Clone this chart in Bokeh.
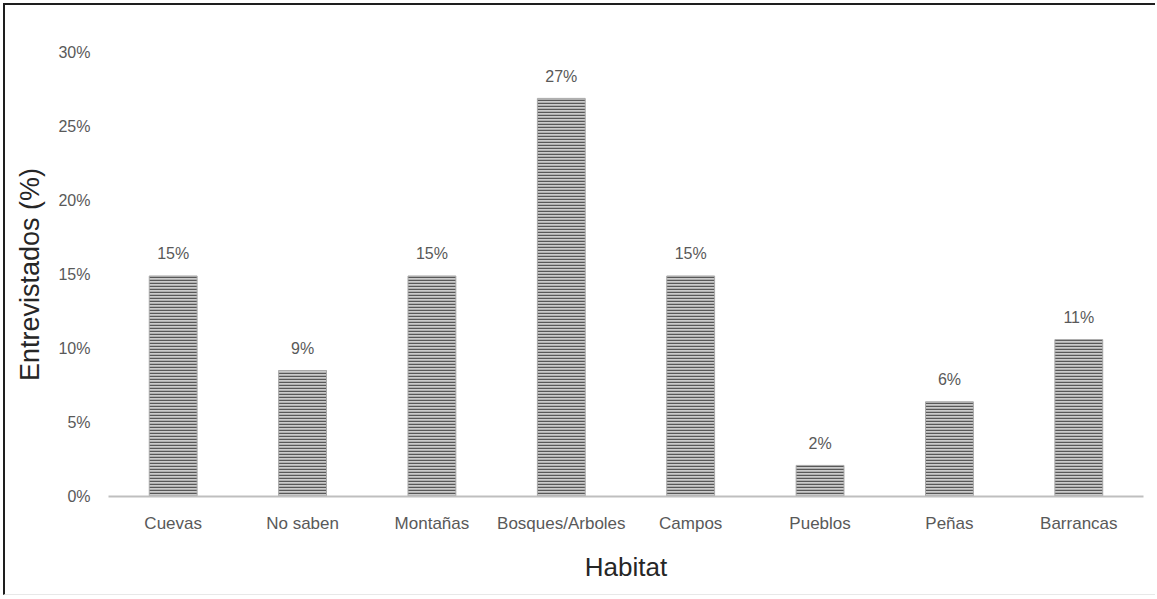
from bokeh.plotting import figure
from bokeh.models import FactorRange, Range1d, ColumnDataSource, CustomJSTickFormatter
from bokeh.core.properties import value
from bokeh.embed import file_html
from bokeh.resources import INLINE

# Habitat categories and share of interviewees (%)
habitats = ["Cuevas", "No saben", "Montañas", "Bosques/Arboles",
            "Campos", "Pueblos", "Peñas", "Barrancas"]
percent = [14.9, 8.51, 14.9, 26.9, 14.9, 2.1, 6.4, 10.6]
y_ticks = [0, 5, 10, 15, 20, 25, 30]

labels = [f"{round(v)}%" for v in percent]
src = ColumnDataSource(dict(habitat=habitats, pct=percent, label=labels))

FONT = "Liberation Sans"

p = figure(
    width=1152, height=592,
    x_range=FactorRange(*habitats, range_padding=0),
    y_range=Range1d(0, 30),
    output_backend="svg", toolbar_location=None,
    min_border_left=103, min_border_right=14,
    min_border_top=47, min_border_bottom=101,
    background_fill_color="white", border_fill_color="white",
)
p.outline_line_color = None
p.xgrid.grid_line_color = None
p.ygrid.grid_line_color = None

p.vbar(x="habitat", top="pct", width=0.37, source=src,
       fill_color="#cbcbcb", line_color="#a8a8a8", line_width=1,
       hatch_pattern="horizontal_line", hatch_scale=3,
       hatch_weight=1.5, hatch_color="#585858")

p.text(x="habitat", y="pct", text="label", source=src,
       text_font=value(FONT), text_font_size="16px", text_color="#595959",
       text_align="center", text_baseline="middle", y_offset=-22)

# y axis: percent ticks, no line
p.yaxis.ticker = y_ticks
p.yaxis.formatter = CustomJSTickFormatter(code="return tick + '%';")
p.yaxis.axis_line_color = None
p.yaxis.major_tick_line_color = None
p.yaxis.minor_tick_line_color = None
p.yaxis.major_label_text_font = FONT
p.yaxis.major_label_text_font_size = "16px"
p.yaxis.major_label_text_color = "#595959"
p.yaxis.major_label_standoff = 12
p.yaxis.axis_label = "Entrevistados (%)"
p.yaxis.axis_label_text_font = FONT
p.yaxis.axis_label_text_font_size = "27px"
p.yaxis.axis_label_text_font_style = "normal"
p.yaxis.axis_label_text_color = "#262626"
p.yaxis.axis_label_standoff = 10

# x axis: category baseline
p.xaxis.axis_line_color = "#bfbfbf"
p.xaxis.axis_line_width = 2
p.xaxis.major_tick_line_color = None
p.xaxis.minor_tick_line_color = None
p.xaxis.major_label_text_font = FONT
p.xaxis.major_label_text_font_size = "17px"
p.xaxis.major_label_text_color = "#595959"
p.xaxis.major_label_standoff = 11
p.xaxis.axis_label = "Habitat"
p.xaxis.axis_label_text_font = FONT
p.xaxis.axis_label_text_font_size = "26px"
p.xaxis.axis_label_text_font_style = "normal"
p.xaxis.axis_label_text_color = "#262626"
p.xaxis.axis_label_standoff = 16

# frame around the chart
p.styles = {
    "margin": "3px 0 0 3px",
    "border-top": "2px solid #1e1e1e",
    "border-left": "2px solid #1e1e1e",
    "border-bottom": "1px solid #e8e8e8",
}

open("out.html", "w").write(file_html(p, INLINE))
